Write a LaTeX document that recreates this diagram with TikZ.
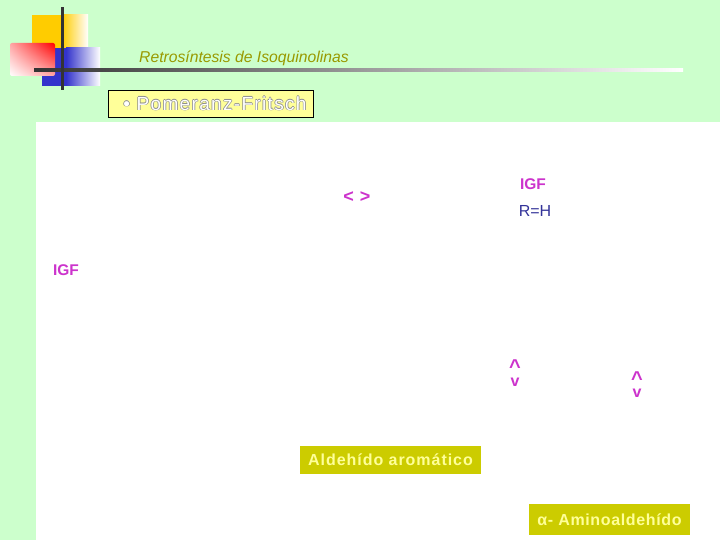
\documentclass[tikz,border=0pt]{standalone}
\usepackage{fontspec}
\usetikzlibrary{shadings}
\setmainfont{Liberation Sans}
\newfontfamily\comicfont{Liberation Sans}
\newfontfamily\comicwide[LetterSpace=6]{Liberation Sans}
\newfontfamily\comicmid[LetterSpace=4]{Liberation Sans}
\newfontfamily\comicpf[LetterSpace=7]{Liberation Sans}
\begin{document}
\begin{tikzpicture}[x=1pt,y=-1pt,
  mag/.style={text=magC,font=\bfseries\fontsize{15.5}{17}\selectfont,inner sep=0pt},
  labbox/.style={fill=olivebox,text=lightyel,font=\comicwide\bfseries\fontsize{16}{18}\selectfont,inner sep=0pt},
  updown/.style={text=magC,font=\bfseries\fontsize{16}{12.5}\selectfont,inner sep=0pt,align=center,anchor=base}]
\definecolor{bgg}{HTML}{CCFFCC}
\definecolor{magC}{HTML}{CC33CC}
\definecolor{navyC}{HTML}{333399}
\definecolor{olivebox}{HTML}{CCCC00}
\definecolor{lightyel}{HTML}{FFFF99}
\definecolor{titleC}{HTML}{999900}
\definecolor{yelsq}{HTML}{FFCC00}
\definecolor{bluesq}{HTML}{3333CC}
\useasboundingbox (0,0) rectangle (720,540);
\fill[bgg] (0,0) rectangle (720,540);
\fill[white] (36,122) rectangle (720,540);
% decorative squares
\fill[yelsq] (32,15) rectangle (62,62);
\shade[left color=yelsq,right color=white] (62,15) rectangle (88,62);
\fill[bluesq] (42,48) rectangle (66,86);
\shade[left color=bluesq,right color=white] (66,48) rectangle (100,86);
\shade[upper left=red!35,upper right=red,lower left=white,lower right=red!35,rounded corners=2pt] (10,43) rectangle (55,76);
\shade[left color=black!80,middle color=black!55,right color=white] (34,68.5) rectangle (683,71.5);
\fill[black!80] (60.5,7) rectangle (63.5,90);
% title
\node[text=titleC,font=\comicfont\itshape\fontsize{15.7}{17}\selectfont,anchor=west,inner sep=0pt] (title) at (139,58) {Retrosíntesis de Isoquinolinas};
% Pomeranz box
\node[draw=black,fill=lightyel,minimum width=205pt,minimum height=27pt,inner sep=0pt] (pfbox) at (210.5,103.5) {};
\foreach \dx/\dy in {-0.7/0,0.7/0,0/-0.7,0/0.7}
  \node[text=black!45,font=\comicpf\fontsize{19}{20}\selectfont,inner sep=0pt] at (215+\dx,103.5+\dy) {• Pomeranz-Fritsch};
\node[text=white,font=\comicpf\fontsize{19}{20}\selectfont,inner sep=0pt] (pftext) at (215,103.5) {• Pomeranz-Fritsch};
% labels
\node[mag,font=\bfseries\fontsize{18}{18}\selectfont] (ltgt) at (357,197) {<\,\,>};
\node[mag] (igf1) at (533,184) {IGF};
\node[text=navyC,font=\fontsize{16}{18}\selectfont,inner sep=0pt] (rh) at (535,211) {R=H};
\node[mag] (igf2) at (66,270) {IGF};
\node[updown] (ud1) at (515,386) {{\fontsize{20}{12.5}\selectfont\textasciicircum}\\v};
\node[updown] (ud2) at (637,397.5) {{\fontsize{20}{12.5}\selectfont\textasciicircum}\\v};
% coloured label boxes
\node[labbox,minimum width=181pt,minimum height=28pt] (aldar) at (390.5,460) {Aldehído aromático};
\node[labbox,font=\comicmid\bfseries\fontsize{16}{18}\selectfont,minimum width=161pt,minimum height=31pt] (amino) at (609.5,519.5) {α- Aminoaldehído};
\end{tikzpicture}
\end{document}
